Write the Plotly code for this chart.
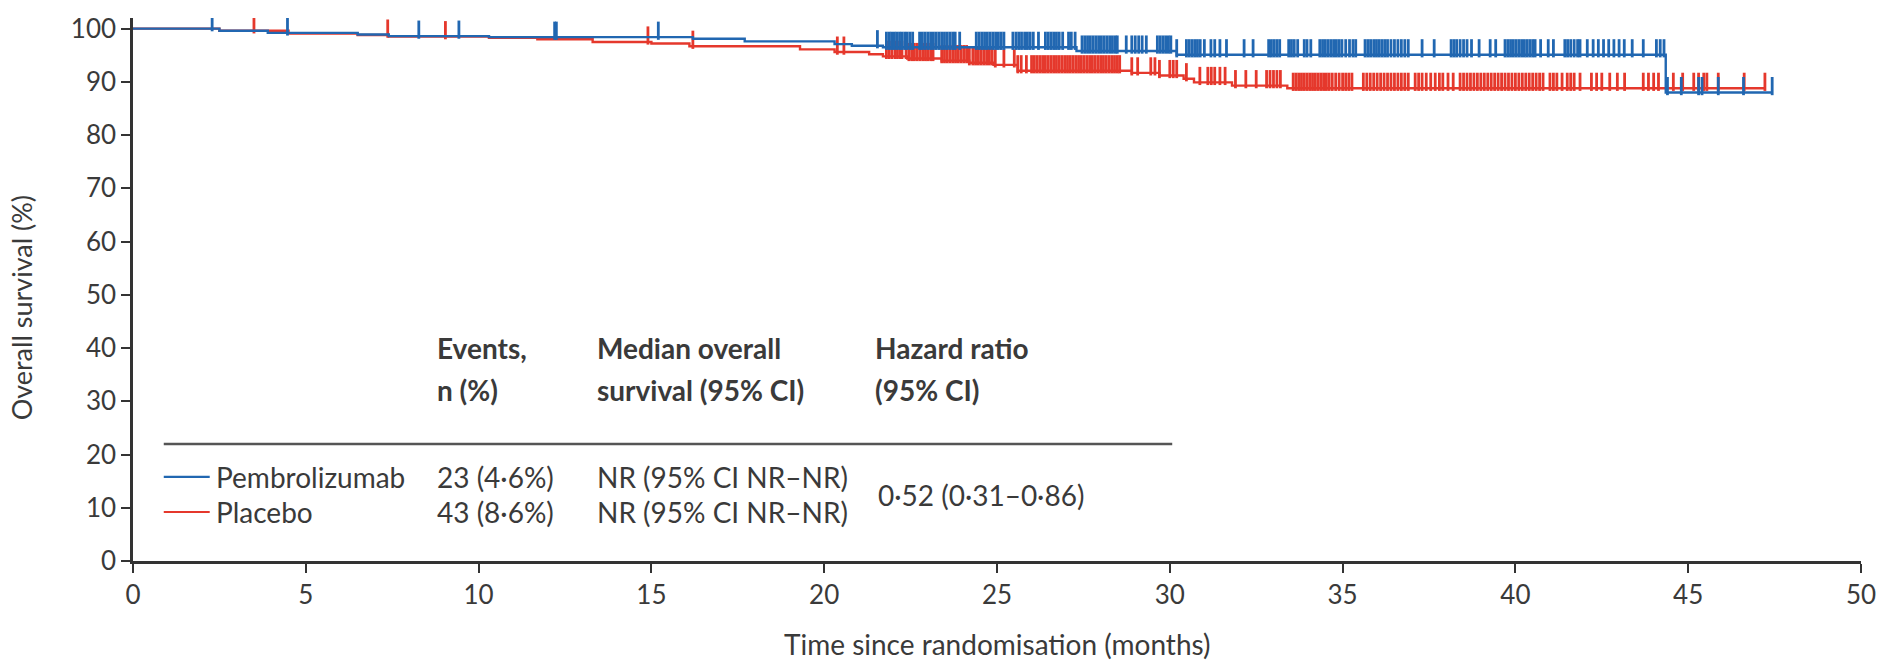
import plotly.graph_objects as go

# ---------------- data ----------------
pembro_times = [0, 2.5, 3.9, 6.5, 7.4, 10.3, 16.2, 17.7, 20.3, 20.8, 21.7, 27.3, 30.2, 44.35, 47.43]
pembro_surv = [100, 99.6, 99.2, 98.9, 98.6, 98.4, 98.1, 97.6, 97.1, 96.8, 96.5, 95.8, 95.1, 88.0, 88.0]

placebo_times = [0, 2.5, 4.5, 6.5, 7.4, 10.3, 11.7, 13.3, 15.0, 16.1, 19.3, 20.3, 21.3, 21.7, 22.4,
                 23.4, 24.2, 24.9, 25.6, 28.9, 29.7, 30.4, 30.7, 31.8, 33.4, 47.22]
placebo_surv = [100, 99.6, 99.1, 98.8, 98.5, 98.3, 98.0, 97.5, 97.2, 96.7, 96.1, 95.6, 95.2, 94.8, 94.4,
                94.0, 93.6, 93.2, 92.1, 91.7, 91.2, 90.6, 89.9, 89.3, 88.8, 88.8]

pembro_censor = [
    2.29, 4.47, 8.27, 9.43, 12.2, 12.25, 15.2, 21.54,
    21.8, 21.88, 21.95, 22.03, 22.1, 22.18, 22.25, 22.33, 22.4, 22.48, 22.56,
    22.76, 22.84, 22.92, 23.0, 23.08, 23.16, 23.24, 23.32, 23.4, 23.48, 23.56, 23.64, 23.72, 23.79,
    23.92,
    24.4, 24.48, 24.56, 24.64, 24.72, 24.8, 24.88, 24.96, 25.04, 25.12, 25.2,
    25.46, 25.55, 25.63, 25.71, 25.8, 25.88, 25.96, 26.05,
    26.2, 26.4, 26.48, 26.56, 26.64, 26.72, 26.8, 26.9,
    27.07, 27.15, 27.26,
    27.46, 27.54, 27.62, 27.7, 27.78, 27.86, 27.94, 28.02, 28.1, 28.18, 28.26, 28.34, 28.42, 28.48,
    28.74, 28.9, 29.0, 29.1, 29.2, 29.32,
    29.64, 29.72, 29.8, 29.88, 29.96, 30.03,
    30.2, 30.48, 30.56, 30.64, 30.72, 30.8, 30.88, 31.0,
    31.19, 31.3, 31.45, 31.64, 32.15, 32.41, 32.86, 32.94, 33.02, 33.1, 33.18,
    33.44, 33.52, 33.6, 33.7, 33.89, 33.97, 34.08,
    34.34, 34.42, 34.5, 34.58, 34.66, 34.74, 34.82, 34.9, 34.98, 35.09, 35.2, 35.3, 35.38,
    35.65, 35.73, 35.81, 35.9, 35.98, 36.06, 36.14, 36.22, 36.3, 36.4, 36.5, 36.6, 36.7, 36.8, 36.9,
    37.3, 37.65, 38.14, 38.22, 38.3, 38.4, 38.5, 38.6, 38.73, 38.95, 39.27, 39.43,
    39.7, 39.78, 39.86, 39.94, 40.02, 40.1, 40.18, 40.26, 40.34, 40.42, 40.5, 40.57, 40.73, 40.95, 41.1,
    41.43, 41.51, 41.6, 41.7, 41.8, 41.87,
    42.08, 42.25, 42.4, 42.55, 42.7, 42.85, 43.0, 43.15, 43.38, 43.7, 44.08, 44.19, 44.3,
    44.4, 44.8, 45.3, 45.4, 45.87, 46.6, 47.43,
]

placebo_censor = [
    3.5, 7.37, 9.04, 14.9, 16.2, 20.38, 20.57,
    21.8, 21.88, 21.96, 22.05, 22.12, 22.2, 22.25,
    22.37, 22.45, 22.53, 22.61, 22.69, 22.77, 22.85, 22.93, 23.0, 23.08, 23.15,
    23.4, 23.48, 23.56, 23.64, 23.72, 23.8, 23.88, 23.96, 24.04, 24.12, 24.2,
    24.3, 24.38, 24.46, 24.54, 24.62, 24.7, 24.78, 24.86, 24.95,
    25.2, 25.5, 25.6, 25.7, 25.85,
    26.0, 26.08, 26.16, 26.24, 26.32, 26.4, 26.48, 26.56, 26.64, 26.72, 26.8, 26.88, 26.96,
    27.04, 27.12, 27.2, 27.28, 27.36, 27.44, 27.52, 27.6, 27.68, 27.76, 27.84, 27.92, 28.0,
    28.08, 28.16, 28.24, 28.32, 28.4, 28.48, 28.55,
    28.9, 29.07, 29.45, 29.57, 29.7, 30.0, 30.1, 30.2, 30.48, 30.87, 31.1, 31.2, 31.3, 31.45,
    31.6, 31.9, 32.2, 32.5, 32.8, 32.9, 33.0, 33.1, 33.2,
    33.57, 33.65, 33.73, 33.81, 33.89, 33.97, 34.05, 34.13, 34.21, 34.29, 34.37, 34.45, 34.53,
    34.61, 34.7, 34.8, 34.9, 35.0, 35.09, 35.18, 35.27,
    35.6, 35.7, 35.8, 35.9, 36.0, 36.1, 36.2, 36.3, 36.4, 36.5, 36.6, 36.7, 36.8, 36.9,
    37.1, 37.2, 37.3, 37.42, 37.55, 37.68, 37.8, 37.9, 38.05, 38.2,
    38.4, 38.5, 38.6, 38.7, 38.8, 38.9, 39.0, 39.1, 39.2, 39.3, 39.4, 39.5, 39.6, 39.7, 39.8,
    39.9, 40.0, 40.1, 40.2, 40.3, 40.4, 40.5, 40.6, 40.7, 40.8,
    41.0, 41.1, 41.2, 41.35, 41.5, 41.6, 41.7, 41.87,
    42.2, 42.35, 42.5, 42.73, 42.95, 43.16, 43.7, 43.85, 44.0, 44.14,
    44.57, 44.84, 45.16, 45.3, 45.45, 45.54, 45.87, 46.62, 47.22,
]

x_ticks = [0, 5, 10, 15, 20, 25, 30, 35, 40, 45, 50]
y_ticks = [0, 10, 20, 30, 40, 50, 60, 70, 80, 90, 100]

arm_names = ["Pembrolizumab", "Placebo"]
events = ["23 (4·6%)", "43 (8·6%)"]
median_os = ["NR (95% CI NR–NR)", "NR (95% CI NR–NR)"]
hazard_ratio = "0·52 (0·31–0·86)"

# ---------------- styling ----------------
BLUE = "#2167b1"
RED = "#e5382c"
TXT = "#3a3a3a"
AX = "#333333"
FONT = "Lato, 'Liberation Sans', Arial, sans-serif"
FS_TICK = 26
FS_TXT = 28
PX_PER_PCT = 5.367


def step_at(times, surv, t):
    val = surv[0]
    for ti, si in zip(times, surv):
        if ti <= t:
            val = si
        else:
            break
    return val


fig = go.Figure()

for name, times, surv, cens, col in [
    ("Placebo", placebo_times, placebo_surv, placebo_censor, RED),
    ("Pembrolizumab", pembro_times, pembro_surv, pembro_censor, BLUE),
]:
    fig.add_trace(go.Scatter(x=times, y=surv, mode="lines", line=dict(color=col, width=2.4, shape="hv"),
                             name=name, showlegend=False, hoverinfo="skip"))
    tick_len = 13
    off = (tick_len / 2) / PX_PER_PCT
    fig.add_trace(go.Scatter(
        x=cens, y=[step_at(times, surv, t) + off for t in cens], mode="markers",
        marker=dict(symbol="line-ns", size=tick_len, line=dict(color=col, width=2.8)),
        showlegend=False, hoverinfo="skip"))

# table annotations
ann = []
def add_text(x, y, text, bold=False, size=FS_TXT):
    ann.append(dict(x=x, y=y, xref="x", yref="y", text=(f"<b>{text}</b>" if bold else text),
                    showarrow=False, xanchor="left", yanchor="middle",
                    font=dict(family=FONT, size=size, color=TXT)))

col_x = [8.75, 13.37, 21.4]
add_text(col_x[0], 40.0, "Events,", bold=True)
add_text(col_x[0], 32.1, "n (%)", bold=True)
add_text(col_x[1], 40.0, "Median overall", bold=True)
add_text(col_x[1], 32.1, "survival (95% CI)", bold=True)
add_text(col_x[2], 40.0, "Hazard ratio", bold=True)
add_text(col_x[2], 32.1, "(95% CI)", bold=True)

row_y = [15.8, 9.2]
for i in range(2):
    add_text(2.33, row_y[i], arm_names[i])
    add_text(col_x[0], row_y[i], events[i])
    add_text(col_x[1], row_y[i], median_os[i])
add_text(col_x[2] + 0.1, 12.4, hazard_ratio)

# axis titles
ann.append(dict(x=25, y=-0.152, xref="x", yref="paper", text="Time since randomisation (months)",
                showarrow=False, xanchor="center", yanchor="middle",
                font=dict(family=FONT, size=FS_TXT, color=TXT)))
ann.append(dict(x=-0.064, y=0.466, xref="paper", yref="paper", text="Overall survival (%)",
                showarrow=False, textangle=-90, xanchor="center", yanchor="middle",
                font=dict(family=FONT, size=27, color=TXT)))

shapes = [
    dict(type="line", xref="x", yref="y", x0=0.89, x1=30.07, y0=22.0, y1=22.0,
         line=dict(color="#555555", width=2.5)),
    dict(type="line", xref="x", yref="y", x0=0.89, x1=2.22, y0=row_y[0], y1=row_y[0],
         line=dict(color=BLUE, width=2.2)),
    dict(type="line", xref="x", yref="y", x0=0.89, x1=2.22, y0=row_y[1], y1=row_y[1],
         line=dict(color=RED, width=2.2)),
]

fig.update_layout(
    width=1888, height=663,
    margin=dict(l=132.7, r=20, t=12, b=102.3),
    paper_bgcolor="white", plot_bgcolor="white",
    font=dict(family=FONT, size=FS_TICK, color=TXT),
    annotations=ann, shapes=shapes,
    showlegend=False,
)
fig.update_xaxes(range=[0, 50], tickvals=x_ticks, ticktext=[str(v) for v in x_ticks],
                 showline=True, linecolor=AX, linewidth=2.5, ticks="outside", ticklen=9,
                 tickwidth=2, tickcolor=AX, showgrid=False, zeroline=False,
                 ticklabeloverflow="allow",
                 tickfont=dict(family=FONT, size=FS_TICK, color=TXT))
fig.update_yaxes(range=[0, 102], tickvals=y_ticks, ticktext=[str(v) for v in y_ticks],
                 showline=True, linecolor=AX, linewidth=2.5, ticks="outside", ticklen=9,
                 tickwidth=2, tickcolor=AX, showgrid=False, zeroline=False,
                 tickfont=dict(family=FONT, size=FS_TICK, color=TXT))

fig.write_html("out.html")
